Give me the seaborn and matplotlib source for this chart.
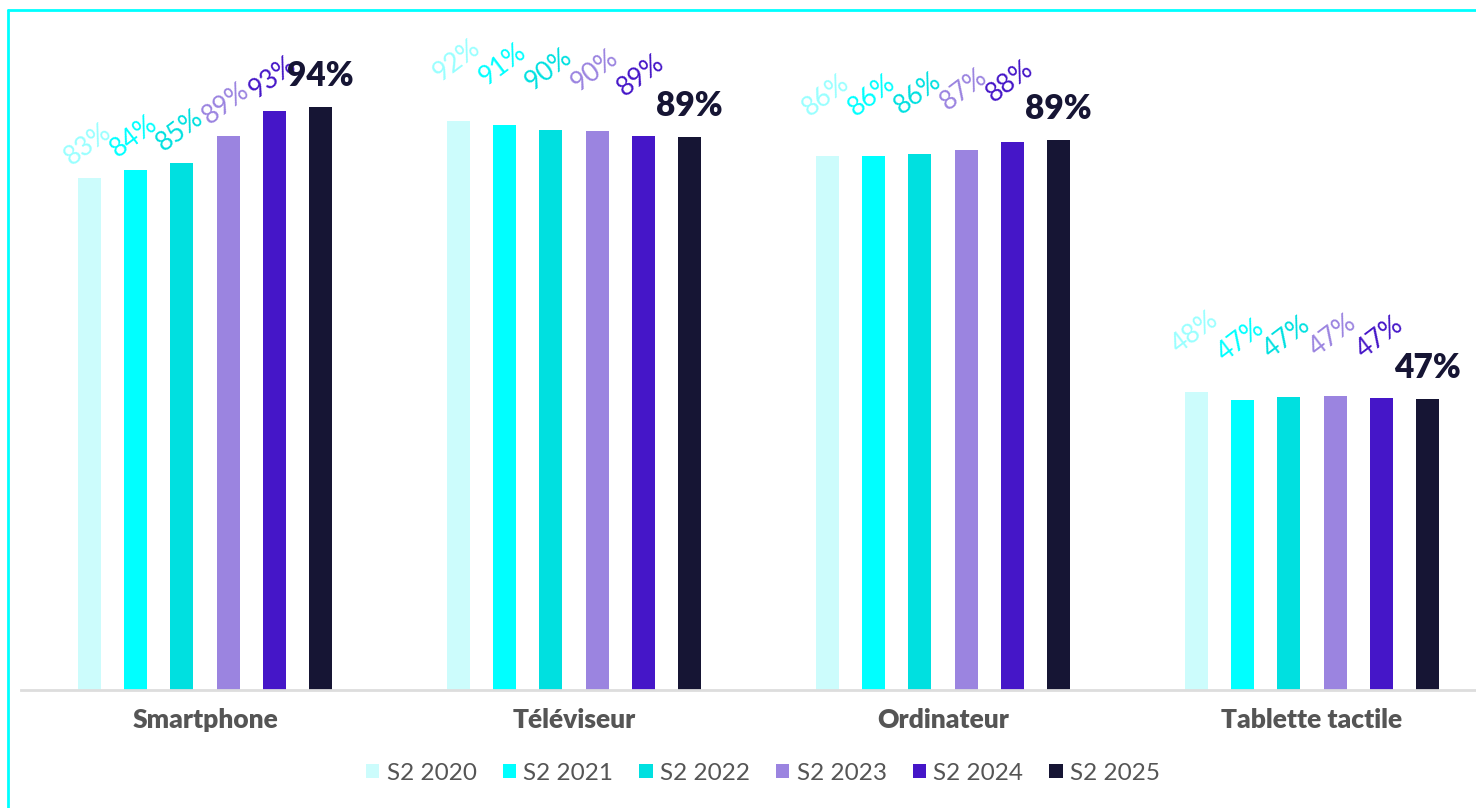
import matplotlib
matplotlib.use("Agg")
import matplotlib.pyplot as plt
from matplotlib.lines import Line2D
import seaborn as sns
import pandas as pd

categories = ["Smartphone", "Téléviseur", "Ordinateur", "Tablette tactile"]
years = ["S2 2020", "S2 2021", "S2 2022", "S2 2023", "S2 2024", "S2 2025"]
s2_2020 = [82.6, 91.8, 86.1, 48.0]
s2_2021 = [83.9, 91.2, 86.1, 46.7]
s2_2022 = [85.0, 90.4, 86.5, 47.2]
s2_2023 = [89.3, 90.2, 87.1, 47.4]
s2_2024 = [93.4, 89.4, 88.4, 47.1]
s2_2025 = [94.1, 89.2, 88.7, 46.9]
series = [s2_2020, s2_2021, s2_2022, s2_2023, s2_2024, s2_2025]

bar_colors = ["#CCFCFC", "#00FFFF", "#00E0E0", "#9B84E0", "#4516C8", "#161534"]
label_colors = ["#99FFFF", "#00FFFF", "#00E0E0", "#9B84E0", "#4516C8", "#161534"]
# vertical lift (in % units) of the slanted labels, per category (styling)
label_lift = [1.2, 5.6, 5.6, 5.6]

rows = []
for yr, vals in zip(years, series):
    for c, v in zip(categories, vals):
        rows.append({"cat": c, "year": yr, "val": v})
df = pd.DataFrame(rows)

sns.set_theme(style="white")
plt.rcParams["font.family"] = ["Lato", "DejaVu Sans"]

W, H = 1476, 808
fig = plt.figure(figsize=(W / 100, H / 100), dpi=100)
ax = fig.add_axes([21 / W, (H - 690) / H, 1 - 21 / W, 620 / H])

sns.barplot(data=df, x="cat", y="val", hue="year", order=categories,
            hue_order=years, palette=bar_colors, width=0.75, gap=0.5,
            linewidth=0, saturation=1, ax=ax, legend=True)

ax.set_xlim(-0.4986, 3.4444)
ax.set_ylim(0, 100)
ax.set_xlabel("")
ax.set_ylabel("")
ax.set_yticks([])
for s in ["top", "right", "left"]:
    ax.spines[s].set_visible(False)
ax.spines["bottom"].set_color("#DDDDDD")
ax.spines["bottom"].set_linewidth(2)
ax.tick_params(axis="x", length=0, pad=13)
ax.set_xticks(range(len(categories)))
ax.set_xticklabels(categories, fontsize=19, fontweight="heavy", color="#555555")

# value labels
for i, cont in enumerate(ax.containers):
    for j, bar in enumerate(cont):
        x = bar.get_x() + bar.get_width() / 2
        h = bar.get_height()
        txt = f"{round(h):d}%"
        if i == len(ax.containers) - 1:
            ax.text(x, h + 2.4, txt, ha="center", va="bottom", fontsize=24,
                    fontweight="heavy", color=label_colors[i], clip_on=False)
        else:
            ax.text(x - 0.005, h + label_lift[j], txt, ha="center", va="bottom",
                    fontsize=19, fontweight="normal", rotation=37,
                    color=label_colors[i], clip_on=False)

handles, labels = ax.get_legend_handles_labels()
ax.get_legend().remove()
fig.legend(handles, labels, loc="center", bbox_to_anchor=(0.517, (H - 773) / H),
           ncol=6, frameon=False, fontsize=17.5, handlelength=0.55,
           handleheight=0.55, handletextpad=0.3, columnspacing=1.07,
           labelcolor="#555555")

# cyan frame (top and left)
fig.add_artist(Line2D([8 / W, 1.0], [1 - 10 / H, 1 - 10 / H], color="#00FFFF",
                      lw=2, transform=fig.transFigure))
fig.add_artist(Line2D([8 / W, 8 / W], [0, 1 - 10 / H], color="#00FFFF",
                      lw=2, transform=fig.transFigure))

fig.savefig("out.png", dpi=100, facecolor="white")
